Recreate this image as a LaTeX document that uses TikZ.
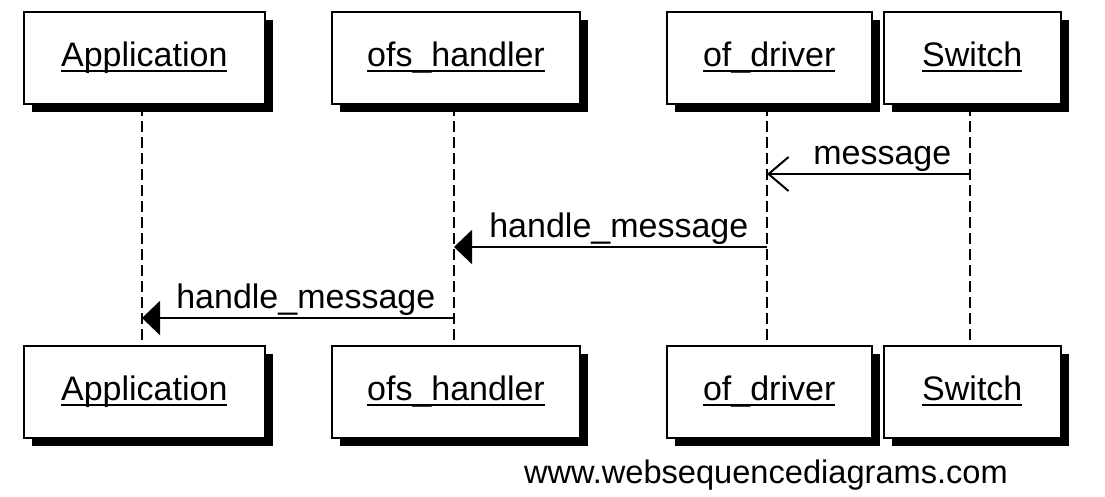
\documentclass[tikz,border=0pt]{standalone}
\usepackage{fontspec}
\setmainfont{Liberation Sans}
\usetikzlibrary{arrows.meta,shadows}
\newcommand\boxlabel[1]{\setbox0\hbox{#1}\rlap{\rule[-5.5pt]{\wd0}{2pt}}\box0}
\begin{document}
\begin{tikzpicture}[x=1pt,y=-1pt]
\tikzset{
  actor/.style={draw, line width=2pt, fill=white, minimum height=92pt, inner sep=0pt,
    text height=25pt, text depth=8pt, font=\fontsize{34}{40}\selectfont,
    drop shadow={shadow xshift=8pt, shadow yshift=-8pt, opacity=1, fill=black}},
  lifeline/.style={line width=2pt, dash pattern=on 11pt off 5pt},
  msg/.style={line width=2pt},
  syncmsg/.style={msg, -{Triangle[length=18pt,width=34pt]}},
  asyncmsg/.style={msg, -{Straight Barb[length=20pt,width=34pt,line width=2pt]}},
  lbl/.style={font=\fontsize{34}{40}\selectfont, anchor=base east, inner sep=0pt},
}
\useasboundingbox[fill=white] (0,0) rectangle (1105,496);
% lifeline x positions
\coordinate (appL) at (142,0);
\coordinate (ofsL) at (454,0);
\coordinate (drvL) at (767,0);
\coordinate (swL) at (970,0);
% top boxes
\node[actor, minimum width=241pt] (app) at (144.3,58) {\boxlabel{Application}};
\node[actor, minimum width=248pt] (ofs) at (456,58) {\boxlabel{ofs\_handler}};
\node[actor, minimum width=205pt] (drv) at (769.2,58) {\boxlabel{of\_driver}};
\node[actor, minimum width=177pt] (sw) at (972.3,58) {\boxlabel{Switch}};
% bottom boxes
\node[actor, minimum width=241pt] (appB) at (144.3,391.5) {\boxlabel{Application}};
\node[actor, minimum width=248pt] (ofsB) at (456,391.5) {\boxlabel{ofs\_handler}};
\node[actor, minimum width=205pt] (drvB) at (769.2,391.5) {\boxlabel{of\_driver}};
\node[actor, minimum width=177pt] (swB) at (972.3,391.5) {\boxlabel{Switch}};
% lifelines
\draw[lifeline] (app.south -| appL) -- (appB.north -| appL);
\draw[lifeline] (ofs.south -| ofsL) -- (ofsB.north -| ofsL);
\draw[lifeline] (drv.south -| drvL) -- (drvB.north -| drvL);
\draw[lifeline] (sw.south -| swL) -- (swB.north -| swL);
% message heights
\coordinate (m1) at (0,174);
\coordinate (m2) at (0,247);
\coordinate (m3) at (0,318);
% messages
\draw[asyncmsg] (swL |- m1) -- (drvL |- m1);
\node[lbl] (t1) at (951.5,164.5) {message};
\draw[syncmsg] (drvL |- m2) -- (ofsL |- m2);
\node[lbl] (t2) at (748.5,237.5) {handle\_message};
\draw[syncmsg] (ofsL |- m3) -- (appL |- m3);
\node[lbl] (t3) at (435.5,308.5) {handle\_message};
% watermark
\node[anchor=base east, inner sep=0pt, font=\fontsize{32.6}{38}\selectfont] (wm) at (1008,483) {www.websequencediagrams.com};
\end{tikzpicture}
\end{document}
